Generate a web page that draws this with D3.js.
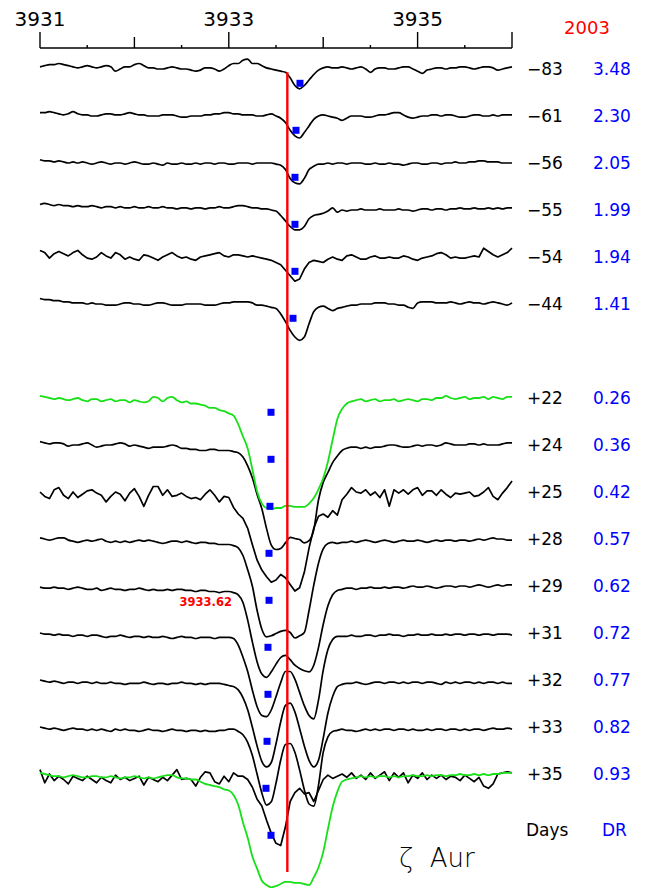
<!DOCTYPE html>
<html><head><meta charset="utf-8">
<script src="https://cdn.jsdelivr.net/npm/d3@7"></script>
<style>body{margin:0;background:#fff}svg{display:block}</style>
</head><body><svg id="c" width="652" height="888"></svg>
<script>
// ---------------- data ----------------
const axisLabelValues = [3931, 3933, 3935];
const axisMajorTicks = [3931, 3933, 3935, 3936];
const axisMidTicks = [3932, 3934];
const axisMinorTicks = [3931.5, 3932.5, 3933.5, 3934.5, 3935.5];
const yearLabel = "2003";
const restWavelength = 3933.62;
const dayLabels = ["\u221283","\u221261","\u221256","\u221255","\u221254","\u221244","+22","+24","+25","+28","+29","+31","+32","+33","+35"];
const drLabels = ["3.48","2.30","2.05","1.99","1.94","1.41","0.26","0.36","0.42","0.57","0.62","0.72","0.77","0.82","0.93"];
const rowIndex = [0,1,2,3,4,5,7,8,9,10,11,12,13,14,15];
const gridStart = 3931.0, gridStep = 0.05;

const fluxM83 = [1.02,1.03,1.04,1.04,1.05,1.04,1.03,1.02,1.01,1.02,
 1.03,1.02,1.01,1.02,1.03,1.02,0.98,1.00,1.02,1.02,
 1.04,1.05,1.03,1.01,1.01,1.00,1.00,1.01,1.02,1.01,
 1.00,1.00,0.99,0.98,0.99,1.01,1.01,1.00,0.98,1.00,
 1.03,1.05,1.05,1.08,1.09,1.05,1.05,1.03,1.01,1.00,
 0.99,0.98,0.97,0.92,0.85,0.82,0.85,0.90,0.95,0.99,
 1.01,1.02,1.01,1.01,1.02,1.01,1.00,1.01,1.02,1.00,
 0.97,1.00,1.01,1.01,1.00,1.00,1.01,1.02,1.02,1.00,
 0.98,0.96,0.99,1.00,1.01,1.01,1.00,1.01,1.01,1.02,
 1.02,1.01,1.00,1.01,1.02,1.02,1.01,0.99,1.00,1.01,
 1.02];
const fluxM61 = [1.03,1.03,1.04,1.03,1.02,1.01,1.02,1.04,1.02,1.01,
 1.01,1.00,1.00,1.01,1.02,1.02,1.01,1.01,1.02,1.03,
 1.02,1.01,1.01,1.00,1.00,1.00,1.01,1.01,1.01,1.00,
 0.99,0.99,1.00,1.00,1.00,1.01,1.01,1.02,1.02,1.03,
 1.03,1.02,1.02,1.01,1.01,1.01,1.00,1.00,1.01,1.02,
 1.00,0.98,0.94,0.87,0.82,0.80,0.85,0.91,0.97,1.00,
 1.01,1.00,0.99,0.98,0.96,0.98,1.00,1.00,1.00,0.99,
 0.99,1.00,1.01,1.01,1.02,1.03,1.03,1.01,0.99,0.98,
 0.99,1.00,1.00,1.01,1.01,1.00,1.01,1.01,1.00,0.99,
 0.99,1.00,1.01,1.01,1.00,1.00,1.01,1.00,1.01,1.01,
 1.01];
const fluxM56 = [1.03,1.02,1.02,1.01,1.02,1.01,1.00,1.01,1.00,1.01,
 1.00,0.99,1.00,1.01,1.00,0.99,1.00,1.00,0.99,1.00,
 1.01,1.00,0.99,0.99,1.00,0.99,0.98,1.00,0.99,0.99,
 1.00,0.99,0.99,1.00,0.99,1.00,1.00,0.99,1.00,1.00,
 0.99,0.99,1.00,1.00,1.00,0.99,1.00,1.00,1.00,1.00,
 0.99,0.98,0.94,0.86,0.82,0.81,0.86,0.94,0.97,0.99,
 0.99,1.00,0.99,1.00,1.00,0.99,1.00,1.00,1.00,0.99,
 0.99,1.00,0.99,0.99,1.00,0.99,0.99,0.98,0.99,1.00,
 1.00,0.99,0.99,1.00,1.00,0.99,1.00,1.00,1.01,1.00,
 1.00,1.01,1.01,1.02,1.02,1.01,1.01,1.01,1.00,1.00,
 1.00];
const fluxM55 = [1.05,1.06,1.05,1.04,1.05,1.04,1.04,1.03,1.04,1.03,
 1.03,1.04,1.03,1.02,1.03,1.03,1.02,1.03,1.02,1.02,
 1.03,1.02,1.02,1.03,1.02,1.02,1.03,1.02,1.02,1.01,
 1.02,1.02,1.01,1.02,1.02,1.01,1.02,1.02,1.03,1.02,
 1.02,1.03,1.04,1.04,1.03,1.02,1.02,1.01,1.01,1.00,
 0.99,0.95,0.90,0.85,0.82,0.82,0.85,0.92,0.95,0.96,
 0.97,0.99,1.02,0.98,1.00,0.99,1.00,1.00,1.01,1.00,
 1.00,1.00,1.01,1.00,1.00,1.00,1.01,1.00,1.00,0.99,
 1.00,1.01,1.01,1.00,1.01,1.01,1.00,1.01,1.01,1.02,
 1.01,1.01,1.02,1.01,1.01,1.02,1.01,1.02,1.01,1.02,
 1.02];
const fluxM54 = [1.06,1.04,0.99,1.03,1.05,1.03,1.01,1.04,1.06,1.02,
 0.99,0.98,1.00,1.04,1.01,0.99,1.04,1.02,0.98,1.00,
 0.98,0.97,1.02,1.01,0.99,0.97,1.00,1.02,1.04,1.01,
 0.99,1.00,0.98,0.97,1.00,1.01,1.02,1.03,1.04,1.01,
 1.00,1.02,1.02,1.01,1.00,1.01,1.00,0.99,0.98,0.97,
 0.95,0.93,0.88,0.83,0.78,0.80,0.89,0.95,0.97,0.96,
 0.95,0.98,1.00,0.98,0.97,1.01,1.02,1.00,0.98,0.98,
 1.00,1.01,0.99,0.99,1.00,0.99,0.99,1.01,1.00,0.98,
 0.97,0.99,1.00,1.01,1.03,1.04,1.02,0.99,1.00,0.99,
 0.99,1.00,1.01,1.00,1.08,1.05,1.02,1.00,1.02,1.04,
 1.08];
const fluxM44 = [1.05,1.04,1.04,1.03,1.03,1.02,1.02,1.01,1.01,1.01,
 1.00,1.01,1.00,1.00,0.99,0.99,0.99,1.00,1.01,1.01,
 1.00,1.00,0.99,0.99,1.00,1.01,1.01,1.00,0.99,0.99,
 0.99,1.00,1.00,1.00,1.00,0.99,0.99,0.99,1.00,1.01,
 1.01,1.02,1.02,1.02,1.02,1.01,0.99,0.99,0.98,0.97,
 0.96,0.91,0.84,0.76,0.70,0.67,0.70,0.82,0.93,0.97,
 0.98,0.96,0.94,0.96,0.97,0.98,0.99,0.99,1.00,1.00,
 1.00,1.01,1.01,1.01,1.00,1.00,0.99,0.99,0.97,0.96,
 1.01,1.02,1.02,1.02,1.01,1.01,1.01,1.02,1.01,1.00,
 1.01,1.02,1.01,1.01,1.00,1.01,1.02,1.01,1.00,0.99,
 1.01];
const fluxP24 = [1.03,1.02,1.01,1.02,1.02,1.01,0.99,1.00,1.00,1.01,
 1.02,1.00,0.98,0.99,1.00,1.00,1.01,1.02,1.01,0.99,
 1.00,0.99,0.98,0.97,0.98,0.98,0.98,0.99,1.00,0.99,
 0.97,0.97,0.96,0.96,0.95,0.95,0.96,0.96,0.95,0.95,
 0.95,0.94,0.93,0.89,0.81,0.70,0.55,0.42,0.24,0.09,
 0.05,0.06,0.11,0.16,0.15,0.14,0.11,0.13,0.23,0.50,
 0.66,0.75,0.84,0.90,0.95,0.97,0.98,0.98,0.97,0.98,
 0.97,0.98,0.98,0.99,1.00,1.00,0.99,0.98,0.98,0.99,
 1.00,0.99,1.00,1.00,0.99,1.00,1.02,1.01,1.00,1.00,
 1.00,1.01,1.01,1.00,1.01,1.00,1.00,1.00,1.01,1.02,
 1.02];
const fluxP25 = [1.00,0.96,0.94,1.02,1.04,0.97,0.94,1.00,0.95,0.98,
 1.01,1.02,0.99,0.97,0.91,0.96,1.00,0.98,0.92,0.99,
 1.03,0.96,0.87,0.97,1.05,1.05,0.97,1.02,0.96,0.97,
 0.99,0.96,0.94,0.95,0.93,0.98,1.02,0.97,0.91,0.96,
 0.95,0.86,0.80,0.76,0.67,0.52,0.38,0.29,0.23,0.18,
 0.20,0.25,0.22,0.16,0.10,0.13,0.27,0.49,0.67,0.78,
 0.80,0.77,0.83,0.79,0.93,0.98,1.04,1.00,0.99,1.02,
 0.97,1.00,0.95,1.02,0.87,1.02,0.99,1.02,0.98,1.02,
 1.04,0.97,1.01,1.01,0.97,1.02,0.98,0.95,0.99,0.98,
 0.99,1.00,0.96,0.97,1.00,1.04,0.96,0.93,0.99,1.04,
 1.10];
const fluxP28 = [1.01,1.00,0.99,1.00,1.01,1.01,0.99,0.98,0.97,0.98,
 0.99,0.98,0.99,1.00,0.98,0.97,0.98,0.97,0.98,0.97,
 0.98,0.99,0.98,0.99,0.98,0.97,0.96,0.97,0.98,0.98,
 0.97,0.98,0.97,0.96,0.97,0.97,0.96,0.96,0.95,0.95,
 0.95,0.94,0.92,0.85,0.72,0.57,0.35,0.18,0.11,0.12,
 0.14,0.16,0.17,0.15,0.10,0.12,0.15,0.35,0.58,0.78,
 0.91,0.96,0.97,0.96,0.97,0.97,0.98,0.97,0.98,0.99,
 0.98,0.97,0.98,0.99,0.98,0.97,0.98,0.99,0.98,0.98,
 0.99,0.98,0.97,0.98,0.99,0.98,0.99,0.99,0.98,0.99,
 0.99,0.98,0.99,1.00,0.99,1.00,1.01,1.00,1.00,0.99,
 0.99];
const fluxP29 = [0.99,0.98,0.98,0.99,0.98,0.98,0.97,0.98,0.99,0.98,
 0.97,0.97,0.98,0.96,0.97,0.98,0.97,0.97,0.96,0.97,
 0.97,0.98,0.97,0.96,0.97,0.96,0.96,0.97,0.96,0.97,
 0.97,0.96,0.96,0.95,0.96,0.96,0.95,0.95,0.94,0.95,
 0.95,0.94,0.92,0.85,0.69,0.49,0.31,0.20,0.17,0.22,
 0.29,0.35,0.37,0.33,0.28,0.25,0.23,0.22,0.28,0.44,
 0.65,0.82,0.92,0.96,0.97,0.98,0.98,0.97,0.98,0.98,
 0.99,0.98,0.98,0.99,0.98,0.99,0.99,0.98,0.99,1.00,
 0.99,0.99,1.00,0.99,0.98,0.99,1.00,1.00,0.99,1.00,
 1.00,0.99,1.00,1.01,1.00,0.99,1.00,1.01,1.00,1.01,
 1.01];
const fluxP31 = [1.00,0.99,0.99,0.98,0.99,0.98,0.98,0.97,0.98,0.98,
 0.97,0.98,0.98,0.97,0.96,0.97,0.97,0.98,0.97,0.96,
 0.97,0.97,0.96,0.97,0.96,0.96,0.97,0.96,0.95,0.96,
 0.97,0.96,0.96,0.95,0.96,0.96,0.96,0.95,0.96,0.96,
 0.96,0.95,0.89,0.78,0.65,0.48,0.33,0.25,0.24,0.30,
 0.42,0.55,0.65,0.65,0.58,0.46,0.34,0.25,0.22,0.39,
 0.66,0.85,0.94,0.97,0.97,0.97,0.98,0.97,0.97,0.98,
 0.98,0.97,0.98,0.98,0.99,0.98,0.98,0.97,0.98,0.98,
 0.99,0.98,0.98,0.99,0.98,0.98,0.99,0.98,0.99,0.99,
 0.98,0.99,0.99,0.98,0.99,0.99,0.98,0.99,0.99,0.99,
 0.98];
const fluxP32 = [1.00,0.99,0.98,0.99,0.98,0.97,0.98,0.98,0.97,0.98,
 0.98,0.97,0.98,0.97,0.97,0.98,0.97,0.97,0.96,0.97,
 0.97,0.97,0.98,0.97,0.96,0.97,0.97,0.96,0.97,0.97,
 0.98,0.97,0.97,0.96,0.97,0.96,0.97,0.97,0.97,0.96,
 0.95,0.94,0.91,0.84,0.73,0.57,0.40,0.26,0.21,0.25,
 0.42,0.62,0.77,0.79,0.71,0.56,0.40,0.27,0.21,0.27,
 0.47,0.70,0.85,0.94,0.96,0.97,0.97,0.98,0.97,0.96,
 0.97,0.98,0.98,0.97,0.98,0.98,0.97,0.98,0.97,0.98,
 0.98,0.97,0.98,0.98,0.97,0.96,0.98,0.97,0.98,0.97,
 0.98,0.98,0.97,0.98,0.97,0.98,0.98,0.97,0.98,0.97,
 0.97];
const fluxP33 = [1.00,0.99,0.98,0.99,0.98,0.97,0.98,0.99,0.98,0.98,
 0.97,0.98,0.97,0.98,0.97,0.96,0.98,0.97,0.98,0.97,
 0.97,0.96,0.97,0.98,0.97,0.97,0.96,0.97,0.98,0.97,
 0.97,0.96,0.97,0.97,0.96,0.97,0.96,0.96,0.97,0.97,
 0.98,0.98,0.96,0.93,0.86,0.74,0.57,0.40,0.29,0.32,
 0.49,0.70,0.84,0.85,0.77,0.61,0.43,0.30,0.28,0.47,
 0.77,0.91,0.96,0.97,0.98,0.97,0.97,0.96,0.97,0.98,
 0.97,0.98,0.97,0.98,0.98,0.97,0.98,0.98,0.97,0.98,
 0.97,0.97,0.98,0.97,0.98,0.98,0.97,0.98,0.98,0.97,
 0.98,0.97,0.98,0.98,0.97,0.98,0.99,0.98,0.98,0.99,
 0.98];
const fluxP35 = [1.04,0.92,1.00,0.94,0.98,0.95,0.91,0.98,0.96,0.94,
 0.98,0.95,0.92,0.97,0.94,0.92,0.99,0.95,0.97,0.94,
 0.96,0.98,0.90,0.97,0.95,0.93,0.97,0.94,0.99,1.04,
 0.95,0.96,0.95,0.89,0.97,1.02,1.01,0.93,0.91,0.98,
 0.93,1.01,0.98,0.98,0.95,0.88,0.77,0.71,0.58,0.46,
 0.37,0.35,0.52,0.75,0.83,0.87,0.82,0.83,0.75,0.85,
 0.95,0.99,0.96,0.98,1.00,0.97,1.01,0.96,0.99,0.95,
 1.01,0.96,0.99,1.02,0.94,1.01,0.97,1.01,0.92,0.99,
 0.96,1.01,0.95,0.99,0.96,0.99,0.95,0.98,0.97,0.94,
 0.99,0.96,0.93,0.97,0.89,0.87,0.91,1.00,1.01,1.02,
 1.01];
// reference profile (green), shown at +22 and at +35
const refP22 = [1.02,1.01,1.00,0.99,1.00,0.99,0.98,0.99,1.00,0.98,
 0.97,0.99,0.99,0.97,0.98,0.99,0.97,0.98,0.98,0.96,
 0.98,0.97,0.96,0.97,1.01,1.00,0.97,1.00,1.01,0.98,
 0.96,0.97,0.95,0.95,0.94,0.93,0.91,0.91,0.89,0.88,
 0.86,0.84,0.76,0.65,0.54,0.35,0.15,0.04,0.00,-0.01,
 0.00,0.00,0.02,0.02,0.01,0.01,0.01,0.04,0.09,0.17,
 0.27,0.42,0.62,0.81,0.90,0.95,0.97,0.98,0.99,0.97,
 0.98,0.99,0.97,0.98,0.98,0.99,0.97,0.98,0.99,0.98,
 0.97,0.99,0.99,0.98,1.00,1.00,1.02,1.00,0.99,1.00,
 1.01,0.99,1.00,1.00,1.01,0.99,1.01,1.00,0.99,1.01,
 1.01];
const refP35 = [1.01,1.00,0.99,0.98,0.98,0.97,0.98,0.99,0.98,0.97,
 0.97,0.98,0.98,0.97,0.97,0.98,0.97,0.96,0.97,0.97,
 0.98,0.97,0.96,0.97,0.96,0.97,0.98,0.99,0.99,0.97,
 0.96,0.96,0.95,0.95,0.93,0.91,0.90,0.89,0.88,0.86,
 0.85,0.81,0.72,0.56,0.42,0.25,0.14,0.03,-0.01,-0.03,
 -0.02,0.00,0.02,0.02,0.01,0.01,0.00,-0.01,0.06,0.15,
 0.29,0.50,0.70,0.84,0.93,0.95,0.96,0.97,0.98,0.97,
 0.98,0.97,0.98,0.98,0.97,0.98,0.97,0.98,0.98,0.99,
 0.98,0.98,0.99,0.98,0.99,0.99,0.98,0.99,0.99,1.00,
 0.99,0.99,1.00,0.99,1.00,0.99,1.00,1.00,1.01,1.01,
 1.01];

const blackSpectra = [fluxM83, fluxM61, fluxM56, fluxM55, fluxM54, fluxM44,
  fluxP24, fluxP25, fluxP28, fluxP29, fluxP31, fluxP32, fluxP33, fluxP35];
const blackRows = [0,1,2,3,4,5,8,9,10,11,12,13,14,15];
const noisySpectra = [fluxM54, fluxP25, fluxP35];
const greenSpectra = [refP22, refP35];
const greenRows = [7, 15];

// blue markers: wavelength and row
const markerWl = [3933.754, 3933.712, 3933.701, 3933.701, 3933.701, 3933.680,
  3933.447, 3933.447, 3933.436, 3933.426, 3933.426, 3933.415, 3933.415, 3933.405, 3933.394, 3933.447];
const markerRow = [0,1,2,3,4,5,7,8,9,10,11,12,13,14,15,16];
const markerFlux = 0.87;
const redLineTop = {row: 0, flux: 0.97};
const redLineBottom = {row: 15, flux: 0.11};

// ---------------- drawing ----------------
const svg = d3.select("#c");
svg.append("rect").attr("width",652).attr("height",888).attr("fill","#fff");

const x = d3.scaleLinear().domain([3931, 3936]).range([40, 512]);
const row = d3.scaleLinear().domain([0, 16]).range([69, 821]);
const depth = d3.scaleLinear().domain([1, 0]).range([0, 110]);
const Y = (r, f) => row(r) + depth(f);

// axis
const axisY = 48;
const ax = svg.append("g");
ax.append("line").attr("x1", x(3931)).attr("x2", x(3936)).attr("y1", axisY).attr("y2", axisY)
  .attr("stroke","#000").attr("stroke-width",1.6);
[[axisMajorTicks,16],[axisMidTicks,11],[axisMinorTicks,3]].forEach(([vals,len])=>{
  ax.selectAll(null).data(vals).join("line")
    .attr("x1", d=>x(d)).attr("x2", d=>x(d)).attr("y1", axisY).attr("y2", axisY-len)
    .attr("stroke","#000").attr("stroke-width",1.4);
});
ax.selectAll(null).data(axisLabelValues).join("text")
  .attr("x", d=>x(d)).attr("y", 26).attr("text-anchor","middle")
  .attr("font-family","DejaVu Sans").attr("font-size",20).attr("fill","#000")
  .text(d=>String(d));
svg.append("text").attr("x",587).attr("y",34).attr("text-anchor","middle")
  .attr("font-family","DejaVu Sans").attr("font-size",18).attr("fill","#ff0000").text(yearLabel);

const line = (r, noisy) => d3.line()
  .x((d,i)=>x(gridStart + i*gridStep))
  .y(d=>Y(r, d))
  .curve(noisy ? d3.curveLinear : d3.curveMonotoneX);

svg.append("g").selectAll("path").data(blackSpectra).join("path")
  .attr("d", (d,k)=>line(blackRows[k], noisySpectra.includes(d))(d))
  .attr("fill","none").attr("stroke","#000").attr("stroke-width",1.7).attr("stroke-linejoin","round");

svg.append("g").selectAll("path").data(greenSpectra).join("path")
  .attr("d", (d,k)=>line(greenRows[k], false)(d))
  .attr("fill","none").attr("stroke","#18e018").attr("stroke-width",1.8).attr("stroke-linejoin","round");

// red rest line
svg.append("line")
  .attr("x1", x(restWavelength)).attr("x2", x(restWavelength))
  .attr("y1", Y(redLineTop.row, redLineTop.flux)).attr("y2", Y(redLineBottom.row, redLineBottom.flux))
  .attr("stroke","#ff0000").attr("stroke-width",2.4);
svg.append("text").attr("x",232).attr("y",606).attr("text-anchor","end")
  .attr("font-family","DejaVu Sans").attr("font-weight","bold").attr("font-size",11.5)
  .attr("fill","#ff0000").text(restWavelength.toFixed(2));

// blue markers
svg.append("g").selectAll("rect").data(markerWl).join("rect")
  .attr("x", d=>x(d)-3.5).attr("y", (d,i)=>Y(markerRow[i], markerFlux)-3.5)
  .attr("width",7).attr("height",7).attr("fill","#0000ff");

// right labels
const lab = svg.append("g").attr("font-family","DejaVu Sans").attr("font-size",17);
lab.selectAll(null).data(dayLabels).join("text")
  .attr("x",527).attr("y",(d,i)=>row(rowIndex[i])+6).attr("fill","#000").text(d=>d);
lab.selectAll(null).data(drLabels).join("text")
  .attr("x",593).attr("y",(d,i)=>row(rowIndex[i])+6).attr("fill","#0000ff").text(d=>d);
lab.append("text").attr("x",526).attr("y",836).attr("fill","#000").text("Days");
lab.append("text").attr("x",602).attr("y",836).attr("fill","#0000ff").text("DR");

svg.append("text").attr("x",399).attr("y",867).attr("font-family","DejaVu Sans")
  .attr("font-weight",200).attr("font-size",26).attr("fill","#000")
  .style("white-space","pre").text("\u03b6  Aur");

[...blackSpectra, ...greenSpectra].forEach((s,k)=>{ if (s.length!==101) console.error("len", k, s.length); });
</script>
</body></html>
